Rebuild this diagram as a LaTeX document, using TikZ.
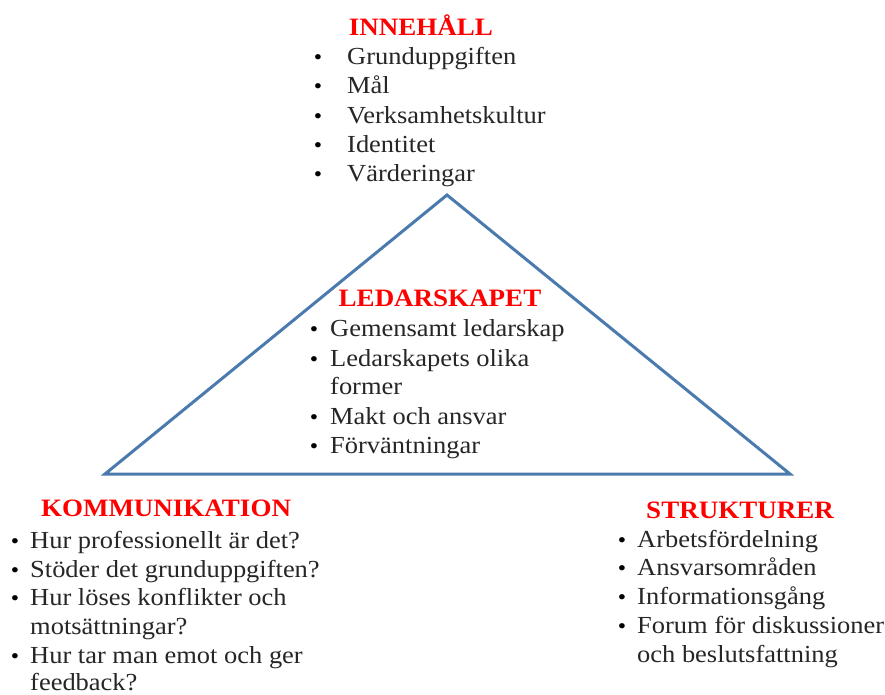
\documentclass[tikz,border=0pt]{standalone}
\usepackage{fontspec}
\setmainfont[FakeStretch=1.08]{Liberation Serif}
\definecolor{tri}{HTML}{4A7AAE}
\definecolor{hred}{HTML}{FF0000}
\tikzset{
  hd/.style={font=\fontsize{25}{29}\selectfont\bfseries, text=hred, anchor=base, inner sep=0pt},
  itm/.style={font=\fontsize{24.5}{29}\selectfont, anchor=base west, inner sep=0pt, text=black!85},
  bul/.style={font=\fontsize{22}{29}\selectfont, anchor=base, inner sep=0pt},
  triline/.style={draw=tri, line width=3pt, line join=miter}
}
\newcommand{\bitem}[5]{%
  \node[bul] (#1b) at (#2,#4) {•};
  \node[itm] (#1) at (#3,#4) {#5};}
\newcommand{\cont}[4]{%
  \node[itm] (#1) at (#2,#3) {#4};}
\begin{document}
\begin{tikzpicture}[x=1pt,y=-1pt]
\useasboundingbox (0,0) rectangle (885,695);
% triangle
\coordinate (apex) at (447,195);
\coordinate (bl) at (105,474);
\coordinate (br) at (790,474);
\draw[triline] (apex) -- (bl) -- (br) -- cycle;
% INNEHALL
\node[hd] (h1) at (421,36) {INNEHÅLL};
\bitem{a1}{318}{347}{65}{Grunduppgiften}
\bitem{a2}{318}{347}{94}{Mål}
\bitem{a3}{318}{347}{124}{Verksamhetskultur}
\bitem{a4}{318}{347}{153}{Identitet}
\bitem{a5}{318}{347}{182}{Värderingar}
% LEDARSKAPET
\node[hd] (h2) at (440,306) {LEDARSKAPET};
\bitem{b1}{314}{330}{336}{Gemensamt ledarskap}
\bitem{b2}{314}{330}{366}{Ledarskapets olika}
\cont{b2c}{330}{394}{former}
\bitem{b3}{314}{330}{424}{Makt och ansvar}
\bitem{b4}{314}{330}{453}{Förväntningar}
% KOMMUNIKATION
\node[hd] (h3) at (166,516) {KOMMUNIKATION};
\bitem{c1}{15}{30}{548}{Hur professionellt är det?}
\bitem{c2}{15}{30}{577}{Stöder det grunduppgiften?}
\bitem{c3}{15}{30}{605}{Hur löses konflikter och}
\cont{c3c}{30}{634}{motsättningar?}
\bitem{c4}{15}{30}{663}{Hur tar man emot och ger}
\cont{c4c}{30}{690}{feedback?}
% STRUKTURER
\node[hd] (h4) at (740,518) {STRUKTURER};
\bitem{d1}{622}{637}{547}{Arbetsfördelning}
\bitem{d2}{622}{637}{575}{Ansvarsområden}
\bitem{d3}{622}{637}{604}{Informationsgång}
\bitem{d4}{622}{637}{633}{Forum för diskussioner}
\cont{d4c}{637}{662}{och beslutsfattning}
\end{tikzpicture}
\end{document}
